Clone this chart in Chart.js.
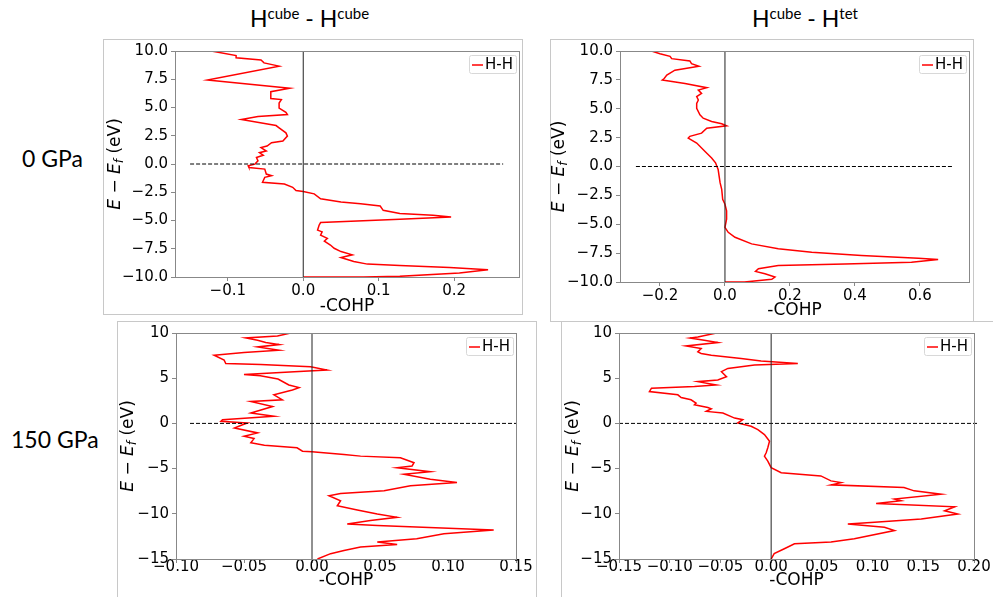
<!DOCTYPE html>
<html>
<head>
<meta charset="utf-8">
<script src="https://cdn.jsdelivr.net/npm/chart.js@4.4.1/dist/chart.umd.min.js"></script>
<style>
  body { margin: 0; width: 993px; height: 597px; overflow: hidden; background: #fff; position: relative; }
  canvas, .box, .lbl { position: absolute; }
  .box { border: 1px solid #c8c8c8; box-sizing: border-box; }
  .lbl { font-family: Lato, "Open Sans", sans-serif; color: #000; white-space: nowrap; }
  .lbl sup { font-size: 15px; vertical-align: 8px; line-height: 0; }
</style>
</head>
<body>
<div class="box" style="left:103px;top:39px;width:420px;height:276px"></div>
<div class="box" style="left:550px;top:39px;width:424px;height:283px"></div>
<div class="box" style="left:117px;top:321px;width:420px;height:290px"></div>
<div class="box" style="left:561px;top:321px;width:440px;height:290px"></div>

<div class="lbl" style="left:250px;top:4px;font-size:23px">H<sup>cube</sup> - H<sup>cube</sup></div>
<div class="lbl" style="left:752px;top:4px;font-size:23px">H<sup>cube</sup> - H<sup>tet</sup></div>
<div class="lbl" style="left:22px;top:144px;font-size:23px">0 GPa</div>
<div class="lbl" style="left:11px;top:425px;font-size:23px">150 GPa</div>

<canvas id="c1" width="419" height="278" style="left:103px;top:39px"></canvas>
<canvas id="c2" width="423" height="282" style="left:550px;top:39px"></canvas>
<canvas id="c3" width="428" height="276" style="left:117px;top:321px"></canvas>
<canvas id="c4" width="432" height="276" style="left:561px;top:321px"></canvas>

<script>
// 0 GPa, Hcube - Hcube
const energy1 = [10.0, 9.6, 9.4, 9.2, 8.95, 8.66, 7.43, 6.7, 6.4, 5.8, 5.7, 5.4, 4.95, 4.57, 4.37, 4.2, 3.93, 3.4, 3.2, 2.76,
  2.47, 2.03, 1.88, 1.59, 1.45, 1.15, 1.0, 0.77, 0.57, 0.28, -0.01, -0.16, -0.31, -0.45, -0.89, -1.04, -1.18, -1.62, -1.77, -2.06,
  -2.35, -2.44, -2.64, -3.08, -3.37, -3.52, -3.72, -4.1, -4.39, -4.54, -4.69, -4.89, -5.18, -5.42, -5.85, -6.0, -6.29, -6.58, -6.82, -7.17,
  -7.46, -7.75, -8.04, -8.28, -8.63, -8.86, -8.98, -9.15, -9.36, -9.65, -9.94, -10.0, -10.0];
const cohp1 = [-0.122, -0.089, -0.089, -0.056, -0.052, -0.032, -0.127, -0.018, -0.043, -0.043, -0.029, -0.032, -0.032, -0.023, -0.021, -0.06, -0.082, -0.036, -0.032, -0.023,
  -0.021, -0.027, -0.042, -0.048, -0.056, -0.049, -0.058, -0.053, -0.062, -0.060, -0.064, -0.073, -0.072, -0.051, -0.049, -0.042, -0.051, -0.054, -0.025, -0.014,
  -0.0096, 0.0, 0.0145, 0.023, 0.050, 0.076, 0.102, 0.106, 0.128, 0.172, 0.196, 0.128, 0.023, 0.021, 0.019, 0.025, 0.023, 0.032, 0.028, 0.036,
  0.041, 0.050, 0.065, 0.050, 0.067, 0.085, 0.128, 0.194, 0.245, 0.207, 0.128, 0.08, 0.0];

// 0 GPa, Hcube - Htet
const energy2 = [10.0, 9.77, 9.54, 9.34, 9.14, 8.91, 8.68, 8.34, 7.91, 7.62, 7.48, 7.19, 6.82, 6.62, 6.33, 6.05, 5.76, 5.47, 5.04, 4.47,
  4.18, 3.9, 3.7, 3.52, 3.32, 2.89, 2.61, 2.46, 2.03, 1.32, 0.74, 0.32, -0.26, -0.83, -1.40, -1.98, -2.84, -3.27, -3.84, -4.56,
  -5.27, -5.70, -6.13, -6.70, -7.13, -7.42, -7.71, -7.94, -8.05, -8.28, -8.45, -8.57, -8.85, -9.08, -9.28, -9.57, -9.77, -10.0, -10.0];
const cohp2 = [-0.226, -0.200, -0.169, -0.164, -0.108, -0.103, -0.080, -0.154, -0.179, -0.187, -0.193, -0.123, -0.056, -0.082, -0.072, -0.087, -0.082, -0.087, -0.087, -0.077,
  -0.067, -0.041, -0.010, 0.005, -0.056, -0.072, -0.108, -0.113, -0.087, -0.062, -0.041, -0.029, -0.021, -0.018, -0.015, -0.010, -0.007, 0.0, 0.005, 0.005,
  0.0, 0.010, 0.031, 0.082, 0.164, 0.267, 0.420, 0.595, 0.656, 0.574, 0.369, 0.164, 0.103, 0.094, 0.123, 0.154, 0.144, 0.06, 0.0];

// 150 GPa, Hcube - Hcube
const energy3 = [10.0, 9.67, 9.45, 9.19, 8.94, 8.72, 8.46, 8.10, 7.84, 7.55, 7.0, 6.63, 6.52, 6.27, 5.90, 5.72, 5.42, 5.28, 4.91, 4.25,
  3.96, 3.70, 3.16, 2.61, 2.42, 1.87, 1.14, 0.78, 0.41, 0.23, 0.04, -0.21, -0.51, -1.05, -1.42, -1.68, -2.15, -2.41, -2.70, -3.07,
  -3.14, -3.43, -3.62, -3.80, -4.35, -4.71, -4.90, -5.34, -5.63, -6.18, -6.55, -6.91, -7.46, -7.75, -8.01, -8.56, -9.11, -9.58, -10.02, -10.39,
  -10.75, -11.12, -11.30, -11.78, -12.22, -12.77, -13.13, -13.39, -13.68, -14.05, -14.41, -15.0];
const cohp3 = [-0.0157, -0.0254, -0.0487, -0.040, -0.034, -0.0242, -0.040, -0.0242, -0.050, -0.072, -0.0646, -0.0634, -0.0377, -0.001, 0.011, -0.013, -0.050, -0.038, -0.025, -0.017,
  -0.0095, -0.0144, -0.028, -0.0218, -0.045, -0.029, -0.045, -0.028, -0.0658, -0.067, -0.0475, -0.052, -0.057, -0.040, -0.050, -0.0426, -0.045, -0.035, -0.011, -0.007,
  0.0, 0.0235, 0.0357, 0.065, 0.075, 0.0736, 0.0626, 0.087, 0.0675, 0.087, 0.1066, 0.0724, 0.053, 0.021, 0.0125, 0.021, 0.0186, 0.0333, 0.048, 0.0626,
  0.043, 0.0259, 0.048, 0.1336, 0.097, 0.077, 0.048, 0.0626, 0.0357, 0.0235, 0.0137, 0.004];

// 150 GPa, Hcube - Htet
const energy4 = [10.0, 9.56, 9.45, 9.19, 8.94, 8.57, 8.28, 7.91, 7.73, 7.55, 7.18, 6.89, 6.63, 6.45, 6.08, 5.72, 5.17, 4.80, 4.62, 4.25,
  4.07, 3.89, 3.52, 3.16, 2.86, 2.61, 2.24, 2.06, 1.76, 1.62, 1.33, 1.14, 0.59, 0.41, 0.04, -0.32, -0.69, -1.24, -1.97, -2.70,
  -3.25, -3.62, -4.17, -4.90, -5.45, -5.81, -6.36, -6.55, -6.80, -7.09, -7.46, -7.83, -8.37, -8.56, -8.85, -9.22, -9.66, -10.02, -10.57, -10.94,
  -11.12, -11.49, -11.85, -12.77, -13.13, -13.32, -13.87, -14.41, -15.0];
const cohp4 = [-0.054, -0.0723, -0.080, -0.066, -0.0526, -0.084, -0.069, -0.0723, -0.069, -0.059, -0.0296, -0.0099, 0.0263, -0.0164, -0.0427, -0.049, -0.044, -0.0526, -0.0723, -0.054,
  -0.0756, -0.118, -0.120, -0.092, -0.0887, -0.079, -0.074, -0.0756, -0.0624, -0.059, -0.064, -0.0476, -0.036, -0.028, -0.033, -0.0197, -0.0131, -0.0066, -0.0016, -0.0033,
  -0.0049, -0.0066, -0.0033, 0.0, 0.0099, 0.049, 0.059, 0.069, 0.059, 0.131, 0.141, 0.1676, 0.1216, 0.128, 0.1035, 0.181, 0.171, 0.184, 0.148, 0.102,
  0.0756, 0.1117, 0.1216, 0.082, 0.059, 0.023, 0.013, 0.003, 0.0];

// dashed Fermi level line, x extents
const fermi1 = [-0.15, 0.265];
const fermi2 = [-0.274, 0.70];
const fermi3 = [-0.0897, 0.15];
const fermi4 = [-0.15, 0.203];

// tick labels
const xTicks1 = [-0.1, 0.0, 0.1, 0.2];
const xTicks2 = [-0.2, 0.0, 0.2, 0.4, 0.6];
const xTicks3 = [-0.10, -0.05, 0.00, 0.05, 0.10, 0.15];
const xTicks4 = [-0.15, -0.10, -0.05, 0.00, 0.05, 0.10, 0.15, 0.20];
const yTicks0 = [-10.0, -7.5, -5.0, -2.5, 0.0, 2.5, 5.0, 7.5, 10.0];
const yTicks150 = [-15, -10, -5, 0, 5, 10];

const FONT = 'DejaVu Sans';
const fmt = (v, d) => (v < 0 ? '\u2212' : '') + Math.abs(v).toFixed(d);

// top/right spines, y label with subscript, legend box
const overlay = {
  id: 'overlay',
  afterDraw(chart, args, o) {
    const { ctx, chartArea: a } = chart;
    ctx.save();
    ctx.strokeStyle = '#888';
    ctx.lineWidth = 1;
    ctx.strokeRect(Math.round(a.left) + 0.5, Math.round(a.top) + 0.5, Math.round(a.right - a.left), Math.round(a.bottom - a.top));

    // y axis title
    const parts = [
      { t: 'E', f: 'italic 17px ' + FONT, dy: 0 },
      { t: ' \u2212 ', f: '17px ' + FONT, dy: 0 },
      { t: 'E', f: 'italic 17px ' + FONT, dy: 0 },
      { t: 'f', f: 'italic 12px ' + FONT, dy: 4 },
      { t: ' (eV)', f: '17px ' + FONT, dy: 0 }
    ];
    let w = 0;
    parts.forEach(p => { ctx.font = p.f; p.w = ctx.measureText(p.t).width; w += p.w; });
    ctx.translate(o.titleX, (a.top + a.bottom) / 2);
    ctx.rotate(-Math.PI / 2);
    ctx.fillStyle = '#000';
    ctx.textBaseline = 'middle';
    let x = -w / 2;
    parts.forEach(p => { ctx.font = p.f; ctx.fillText(p.t, x, p.dy); x += p.w; });
    ctx.setTransform(1, 0, 0, 1, 0, 0);

    // legend
    const bw = 47, bh = 18;
    const bx = a.right - 3 - bw, by = a.top + 4;
    ctx.beginPath();
    ctx.roundRect(bx + 0.5, by + 0.5, bw, bh, 2);
    ctx.fillStyle = 'rgba(255,255,255,0.8)';
    ctx.fill();
    ctx.strokeStyle = '#d8d8d8';
    ctx.stroke();
    ctx.beginPath();
    ctx.moveTo(bx + 3, by + bh / 2 + 1);
    ctx.lineTo(bx + 14, by + bh / 2 + 1);
    ctx.strokeStyle = 'red';
    ctx.lineWidth = 1.5;
    ctx.stroke();
    ctx.fillStyle = '#000';
    ctx.font = '15px ' + FONT;
    ctx.textBaseline = 'middle';
    ctx.fillText('H-H', bx + 16, by + bh / 2 + 1);
    ctx.restore();
  }
};

function makeChart(id, energy, cohp, fermi, xTicks, yTicks, xr, yr, xDec, yDec, geo) {
  const ctx = document.getElementById(id).getContext('2d');
  return new Chart(ctx, {
    type: 'scatter',
    data: {
      datasets: [
        {
          label: 'zero',
          data: [{ x: 0, y: yr[0] }, { x: 0, y: yr[1] }],
          showLine: true, borderColor: '#222', borderWidth: 1, pointRadius: 0
        },
        {
          label: 'fermi',
          data: fermi.map(v => ({ x: v, y: 0 })),
          showLine: true, borderColor: '#000', borderWidth: 1, borderDash: [4, 2], pointRadius: 0, clip: false
        },
        {
          label: 'H-H',
          data: energy.map((e, i) => ({ x: cohp[i], y: e })),
          showLine: true, borderColor: 'red', borderWidth: 1.5, pointRadius: 0, tension: 0
        }
      ]
    },
    options: {
      responsive: false,
      animation: false,
      devicePixelRatio: 1,
      layout: { padding: { top: geo.top, right: geo.right, left: 0, bottom: 0 } },
      plugins: {
        legend: { display: false },
        tooltip: { enabled: false },
        overlay: { titleX: geo.titleX }
      },
      scales: {
        x: {
          type: 'linear', min: xr[0], max: xr[1],
          afterBuildTicks: s => { s.ticks = xTicks.map(v => ({ value: v })); },
          afterFit: s => { s.height = geo.xh; },
          ticks: { color: '#000', font: { family: FONT, size: 15 }, padding: geo.tickPad, maxRotation: 0, autoSkip: false,
            callback: v => fmt(v, xDec) },
          grid: { drawOnChartArea: false, drawTicks: true, tickLength: 4, color: '#888' },
          border: { color: '#888', width: 1 },
          title: { display: true, text: '-COHP', color: '#000', font: { family: FONT, size: 17 },
            padding: { top: 0, bottom: geo.titlePad } }
        },
        y: {
          type: 'linear', min: yr[0], max: yr[1],
          afterBuildTicks: s => { s.ticks = yTicks.map(v => ({ value: v })); },
          afterFit: s => { s.width = geo.yw; },
          ticks: { color: '#000', font: { family: FONT, size: 15 }, padding: 3, autoSkip: false,
            callback: v => fmt(v, yDec) },
          grid: { drawOnChartArea: false, drawTicks: true, tickLength: 4, color: '#888' },
          border: { color: '#888', width: 1 }
        }
      }
    },
    plugins: [overlay]
  });
}

makeChart('c1', energy1, cohp1, fermi1, xTicks1, yTicks0, [-0.17, 0.286], [-10, 10], 1, 1,
  { top: 10, right: 3, yw: 72, xh: 40, titleX: 13, tickPad: 1, titlePad: 0 });
makeChart('c2', energy2, cohp2, fermi2, xTicks2, yTicks0, [-0.323, 0.751], [-10, 10], 1, 1,
  { top: 10, right: 4, yw: 70, xh: 39, titleX: 10, tickPad: 1, titlePad: 0 });
makeChart('c3', energy3, cohp3, fermi3, xTicks3, yTicks150, [-0.10, 0.15], [-15, 10], 2, 0,
  { top: 10, right: 29, yw: 59, xh: 38, titleX: 12, tickPad: -5, titlePad: 6 });
makeChart('c4', energy4, cohp4, fermi4, xTicks4, yTicks150, [-0.15, 0.20], [-15, 10], 2, 0,
  { top: 10, right: 19, yw: 58, xh: 38, titleX: 13, tickPad: -5, titlePad: 6 });
</script>
</body>
</html>
